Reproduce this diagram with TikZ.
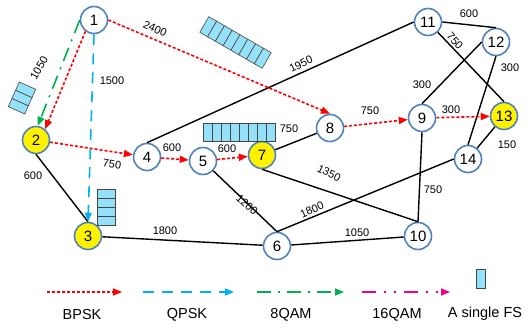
\documentclass[tikz,border=0pt]{standalone}
\usepackage{fontspec}
\setmainfont{Liberation Sans}
\usetikzlibrary{arrows.meta}
\definecolor{ringblue}{RGB}{79,129,189}
\definecolor{fsfill}{RGB}{150,225,250}
\definecolor{fsline}{RGB}{70,70,70}
\definecolor{qblue}{RGB}{0,176,240}
\definecolor{qgreen}{RGB}{0,176,80}
\tikzset{%
  site/.style   = {circle, draw=ringblue, line width=1.6pt, fill=white,%
                   minimum size=27pt, inner sep=0pt,%
                   font=\fontsize{15}{15}\selectfont},%
  dest/.style   = {site, fill=yellow},%
  link/.style   = {line width=1.4pt, black},%
  tip/.style    = {-{Triangle[length=9pt,width=7pt]}},%
  bpsk/.style   = {tip, red, line width=1.6pt, dash pattern=on 3pt off 2pt},%
  qpsk/.style   = {tip, qblue, line width=1.6pt, dash pattern=on 11pt off 8pt},%
  qam8/.style   = {tip, qgreen, line width=1.6pt,%
                   dash pattern=on 14pt off 7pt on 2pt off 7pt},%
  qam16/.style  = {tip, magenta, line width=1.6pt,%
                   dash pattern=on 14pt off 8pt on 2pt off 8pt on 2pt off 8pt},%
  dist/.style   = {font=\fontsize{11}{11}\selectfont, inner sep=1pt},%
  legtext/.style= {font=\fontsize{14.5}{14.5}\selectfont, inner sep=1pt},%
  fs/.style     = {draw=fsline, fill=fsfill, line width=0.6pt}%
}

\begin{document}
\begin{tikzpicture}[x=1pt,y=-1pt]
	\useasboundingbox (0,0) rectangle (532,331);
	% sites
	\node[site] (n1)  at (94,20)   {1};
	\node[dest] (n2)  at (36,140)  {2};
	\node[dest] (n3)  at (88,236)  {3};
	\node[site] (n4)  at (147,157) {4};
	\node[site] (n5)  at (203,161) {5};
	\node[site] (n6)  at (277,246) {6};
	\node[dest] (n7)  at (262,155) {7};
	\node[site] (n8)  at (330,128) {8};
	\node[site] (n9)  at (422,118) {9};
	\node[site] (n10) at (418,236) {10};
	\node[site] (n11) at (428,22)  {11};
	\node[site] (n12) at (496,42)  {12};
	\node[dest] (n13) at (504,116) {13};
	\node[site] (n14) at (468,159) {14};
	% fibre links
	\draw[link] (n2.south) -- (n3.north);
	\draw[link] (n3) -- (n6);
	\draw[link] (n4.north) -- (n11.west);
	\draw[link] (n5) -- (n6.north);
	\draw[link] (n6.north) -- (n14.west);
	\draw[link] (n6) -- (n10);
	\draw[link] (n7) -- (n8);
	\draw[link] (n7.south) -- (n10.north);
	\draw[link] (n9.south) -- (n10.north);
	\draw[link] (n9.north) -- (n12.west);
	\draw[link] (n11.east) -- (n12.north);
	\draw[link] (n11) -- (n13.north);
	\draw[link] (n12.south) -- (n14.north);
	\draw[link] (n13) -- (n14);
	% lightpaths
	\draw[qam8] (n1.180) -- (n2.83);
	\draw[bpsk] (n1.233) -- (n2.50);
	\draw[qpsk] (n1.south) -- (n3.north);
	\draw[bpsk] (n1.east) -- (n8.north);
	\draw[bpsk] (n2) -- (n4);
	\draw[bpsk] (n4) -- (n5);
	\draw[bpsk] (n5) -- (n7);
	\draw[bpsk] (n8) -- (n9);
	\draw[bpsk] (n9) -- (n13);
	% link lengths
	\node[dist,rotate=60]  (d12)   at (39,68)   {1050};
	\node[dist]            (d13)   at (112,81)  {1500};
	\node[dist,rotate=-24] (d18)   at (155,29)  {2400};
	\node[dist]            (d23)   at (33,176)  {600};
	\node[dist,rotate=-8]  (d24)   at (112,164) {750};
	\node[dist]            (d36)   at (165,231) {1800};
	\node[dist]            (d45)   at (172,148) {600};
	\node[dist,rotate=26]  (d411)  at (301,64)  {1950};
	\node[dist]            (d57)   at (227,149) {600};
	\node[dist,rotate=-42] (d56)   at (247,205) {1200};
	\node[dist,rotate=24]  (d614)  at (312,210) {1800};
	\node[dist]            (d610)  at (357,233) {1050};
	\node[dist]            (d78)   at (289,129) {750};
	\node[dist,rotate=-26] (d710)  at (329,173) {1350};
	\node[dist]            (d89)   at (370,111) {750};
	\node[dist]            (d913)  at (451,110) {300};
	\node[dist]            (d912)  at (422,85)  {300};
	\node[dist]            (d910)  at (433,190) {750};
	\node[dist]            (d1112) at (469,14)  {600};
	\node[dist,rotate=-48] (d1113) at (455,41)  {750};
	\node[dist]            (d1214) at (510,68)  {300};
	\node[dist]            (d1314) at (507,145) {150};
	% spectrum slots in use
	\begin{scope}[shift={(22,98)},rotate=66]
		\foreach \i in {0,...,2} \draw[fs] (-13.5+9*\i,-9) rectangle ++(9,18);
	\end{scope}
	\begin{scope}[shift={(235.5,42.5)},rotate=-30]
		\foreach \i in {0,...,7} \draw[fs] (-36+9*\i,-9) rectangle ++(9,18);
	\end{scope}
	\begin{scope}[shift={(106.5,207.5)},rotate=90]
		\foreach \i in {0,...,3} \draw[fs] (-18+9*\i,-9) rectangle ++(9,18);
	\end{scope}
	\begin{scope}[shift={(239.5,132)}]
		\foreach \i in {0,...,7} \draw[fs] (-36+9*\i,-9) rectangle ++(9,18);
	\end{scope}
	% legend
	\coordinate (b0) at (47,292);  \coordinate (b1) at (122,292);
	\coordinate (q0) at (143,292); \coordinate (q1) at (234,292);
	\coordinate (g0) at (257,292); \coordinate (g1) at (344,292);
	\coordinate (m0) at (362,292); \coordinate (m1) at (450,292);
	\draw[bpsk]  (b0) -- (b1);
	\draw[qpsk]  (q0) -- (q1);
	\draw[qam8]  (g0) -- (g1);
	\draw[qam16] (m0) -- (m1);
	\draw[fs] (476,269) rectangle (485,288);
	\node[legtext] (lb) at (82,315)  {BPSK};
	\node[legtext] (lq) at (187,315) {QPSK};
	\node[legtext] (lg) at (291,315) {8QAM};
	\node[legtext] (lm) at (397,315) {16QAM};
	\node[legtext] (lf) at (485,314) {A single FS};
\end{tikzpicture}
\end{document}
